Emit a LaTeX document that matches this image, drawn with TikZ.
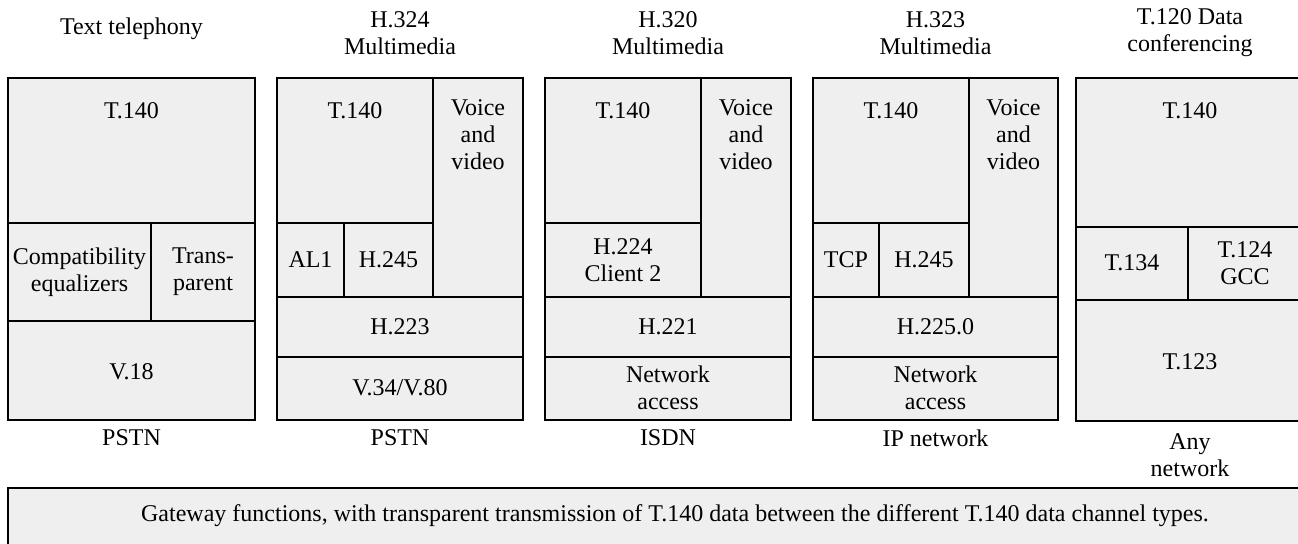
\documentclass[tikz,border=0pt]{standalone}
\usepackage{fontspec}
\setmainfont{Liberation Serif}
\definecolor{cellgray}{RGB}{239,239,239}
\begin{document}
\begin{tikzpicture}[
x=0.5pt, y=-0.5pt,
cell/.style={draw, fill=cellgray, line width=0.7pt},
lbl/.style={align=center, inner sep=0pt, font=\fontsize{12}{13.5}\selectfont},
note/.style={align=center, inner sep=0pt, font=\fontsize{12}{13.5}\selectfont},
]
\useasboundingbox (0,0) rectangle (1298,543);
\clip (0,0) rectangle (1298,543);

% titles
\node[lbl] (ttitle) at (131.5,29) {Text telephony};
\node[lbl] (h324title) at (400,33) {H.324\\Multimedia};
\node[lbl] (h320title) at (668,33) {H.320\\Multimedia};
\node[lbl] (h323title) at (935.5,33) {H.323\\Multimedia};
\node[lbl] (t120title) at (1190,33) {T.120 Data\\conferencing};

% text telephony
\draw[cell] (8,78) rectangle (255,223);
\node[lbl] (t140a) at (131.5,111) {T.140};
\draw[cell] (8,223) rectangle (151,321);
\node[lbl] (compat) at (79.5,272) {Compatibility\\equalizers};
\draw[cell] (151,223) rectangle (255,321);
\node[lbl] (transp) at (203,272) {Trans-\\parent};
\draw[cell] (8,321) rectangle (255,420);
\node[lbl] (v18) at (131.5,372) {V.18};
\node[lbl] (pstna) at (131.5,438) {PSTN};

% H.324
\draw[cell] (277,78) rectangle (433,223);
\node[lbl] (t140b) at (355,111) {T.140};
\draw[cell] (433,78) rectangle (523,297);
\node[lbl] (voiceb) at (478,135) {Voice\\and\\video};
\draw[cell] (277,223) rectangle (344,297);
\node[lbl] (al1) at (310.5,260) {AL1};
\draw[cell] (344,223) rectangle (433,297);
\node[lbl] (h245b) at (388.5,260) {H.245};
\draw[cell] (277,297) rectangle (523,357);
\node[lbl] (h223) at (400,327) {H.223};
\draw[cell] (277,357) rectangle (523,420);
\node[lbl] (v34) at (400,388) {V.34/V.80};
\node[lbl] (pstnb) at (400,438) {PSTN};

% H.320
\draw[cell] (545,78) rectangle (701,223);
\node[lbl] (t140c) at (623,111) {T.140};
\draw[cell] (701,78) rectangle (791,297);
\node[lbl] (voicec) at (746,135) {Voice\\and\\video};
\draw[cell] (545,223) rectangle (701,297);
\node[lbl] (h224) at (623,260) {H.224\\Client 2};
\draw[cell] (545,297) rectangle (791,357);
\node[lbl] (h221) at (668,327) {H.221};
\draw[cell] (545,357) rectangle (791,420);
\node[lbl] (accessc) at (668,388) {Network\\access};
\node[lbl] (isdn) at (668,438) {ISDN};

% H.323
\draw[cell] (813,78) rectangle (969,223);
\node[lbl] (t140d) at (891,111) {T.140};
\draw[cell] (969,78) rectangle (1058,297);
\node[lbl] (voiced) at (1013.5,135) {Voice\\and\\video};
\draw[cell] (813,223) rectangle (879,297);
\node[lbl] (tcp) at (846,260) {TCP};
\draw[cell] (879,223) rectangle (969,297);
\node[lbl] (h245d) at (924,260) {H.245};
\draw[cell] (813,297) rectangle (1058,357);
\node[lbl] (h2250) at (935.5,327) {H.225.0};
\draw[cell] (813,357) rectangle (1058,420);
\node[lbl] (accessd) at (935.5,388) {Network\\access};
\node[lbl] (ipnet) at (935.5,438) {IP network};

% T.120
\draw[cell] (1076,78) rectangle (1310,227);
\node[lbl] (t140e) at (1190,111) {T.140};
\draw[cell] (1076,227) rectangle (1188,300);
\node[lbl] (t134) at (1132,263) {T.134};
\draw[cell] (1188,227) rectangle (1310,300);
\node[lbl] (t124) at (1245,263) {T.124\\GCC};
\draw[cell] (1076,300) rectangle (1310,421);
\node[lbl] (t123) at (1190,362) {T.123};
\node[lbl] (anynet) at (1190,455) {Any\\network};

% gateway
\draw[cell] (8,488) rectangle (1340,560);
\node[note] (gateway) at (675,516) {Gateway functions, with transparent transmission of T.140 data between the different T.140 data channel types.};
\end{tikzpicture}
\end{document}
